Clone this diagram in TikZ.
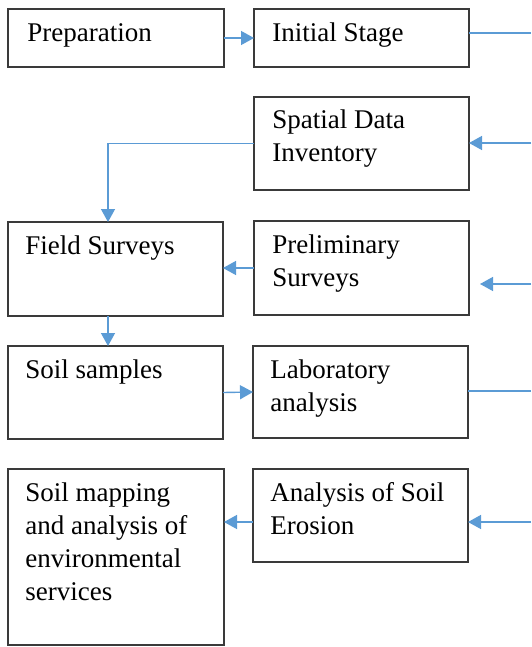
\documentclass[tikz,border=0pt]{standalone}
\usepackage{fontspec}
\setmainfont{Liberation Serif}
\usetikzlibrary{arrows.meta}
\definecolor{arrblue}{HTML}{5B9BD5}
\definecolor{boxgray}{HTML}{3A3A3A}
\begin{document}
\begin{tikzpicture}[x=0.5pt,y=-0.5pt,
  box/.style={draw=boxgray,line width=0.65pt,fill=white,inner sep=0pt,outer sep=0pt,anchor=north west},
  txt/.style={anchor=north west,inner sep=0pt,align=left,font=\fontsize{13.5pt}{16.5pt}\selectfont},
  conn/.style={draw=arrblue,line width=0.7pt},
  arr/.style={conn,-{Triangle[length=6.5pt,width=7pt]}}]
\useasboundingbox (0,0) rectangle (531,647);
% boxes
\node[box,minimum width=108pt,minimum height=29pt] (prep) at (8,9) {};
\node[box,minimum width=107.5pt,minimum height=29pt] (init) at (254,9) {};
\node[box,minimum width=107.5pt,minimum height=46.5pt] (sdi) at (254,97) {};
\node[box,minimum width=107.5pt,minimum height=47pt] (field) at (8,222) {};
\node[box,minimum width=107.5pt,minimum height=47pt] (prelim) at (254,221) {};
\node[box,minimum width=107.5pt,minimum height=46.5pt] (soil) at (8,346) {};
\node[box,minimum width=107.5pt,minimum height=46pt] (lab) at (253,346) {};
\node[box,minimum width=108pt,minimum height=88pt] (map) at (8,469) {};
\node[box,minimum width=107.5pt,minimum height=46.5pt] (ero) at (253,469) {};
% texts
\node[txt] (tprep) at (27,9) {\rule{0pt}{16pt}Preparation};
\node[txt] (tinit) at (272,9) {\rule{0pt}{16pt}Initial Stage};
\node[txt] (tsdi) at (272,96) {\rule{0pt}{16pt}Spatial Data\\Inventory};
\node[txt] (tfield) at (25,222) {\rule{0pt}{16pt}Field Surveys};
\node[txt] (tprelim) at (272,221) {\rule{0pt}{16pt}Preliminary\\Surveys};
\node[txt] (tsoil) at (25,346) {\rule{0pt}{16pt}Soil samples};
\node[txt] (tlab) at (270,346) {\rule{0pt}{16pt}Laboratory\\analysis};
\node[txt] (tmap) at (25,469) {\rule{0pt}{16pt}Soil mapping\\and analysis of\\environmental\\services};
\node[txt] (tero) at (270,469) {\rule{0pt}{16pt}Analysis of Soil\\Erosion};
% coordinates
\coordinate (c1) at (108,143);
\coordinate (e1) at (0,522);
\coordinate (r1) at (531,33);
\coordinate (r2) at (531,143);
\coordinate (r3) at (531,284);
\coordinate (r3e) at (480,284);
\coordinate (r4) at (531,391);
\coordinate (r5) at (531,522);
% connectors
\draw[arr] (prep.east) -- (init.west);
\draw[arr] (sdi.west) -| (field.north -| c1);
\draw[arr] (prelim.west) -- (field.east |- prelim.west);
\draw[arr] (field.south -| c1) -- (soil.north -| c1);
\draw[arr] (soil.east) -- (lab.west);
\draw[arr] (ero.west |- e1) -- (map.east |- e1);
\draw[conn] (init.east |- r1) -- (r1);
\draw[arr] (r2) -- (sdi.east |- r2);
\draw[arr] (r3) -- (r3e);
\draw[conn] (lab.east |- r4) -- (r4);
\draw[arr] (r5) -- (ero.east |- r5);
\end{tikzpicture}
\end{document}
